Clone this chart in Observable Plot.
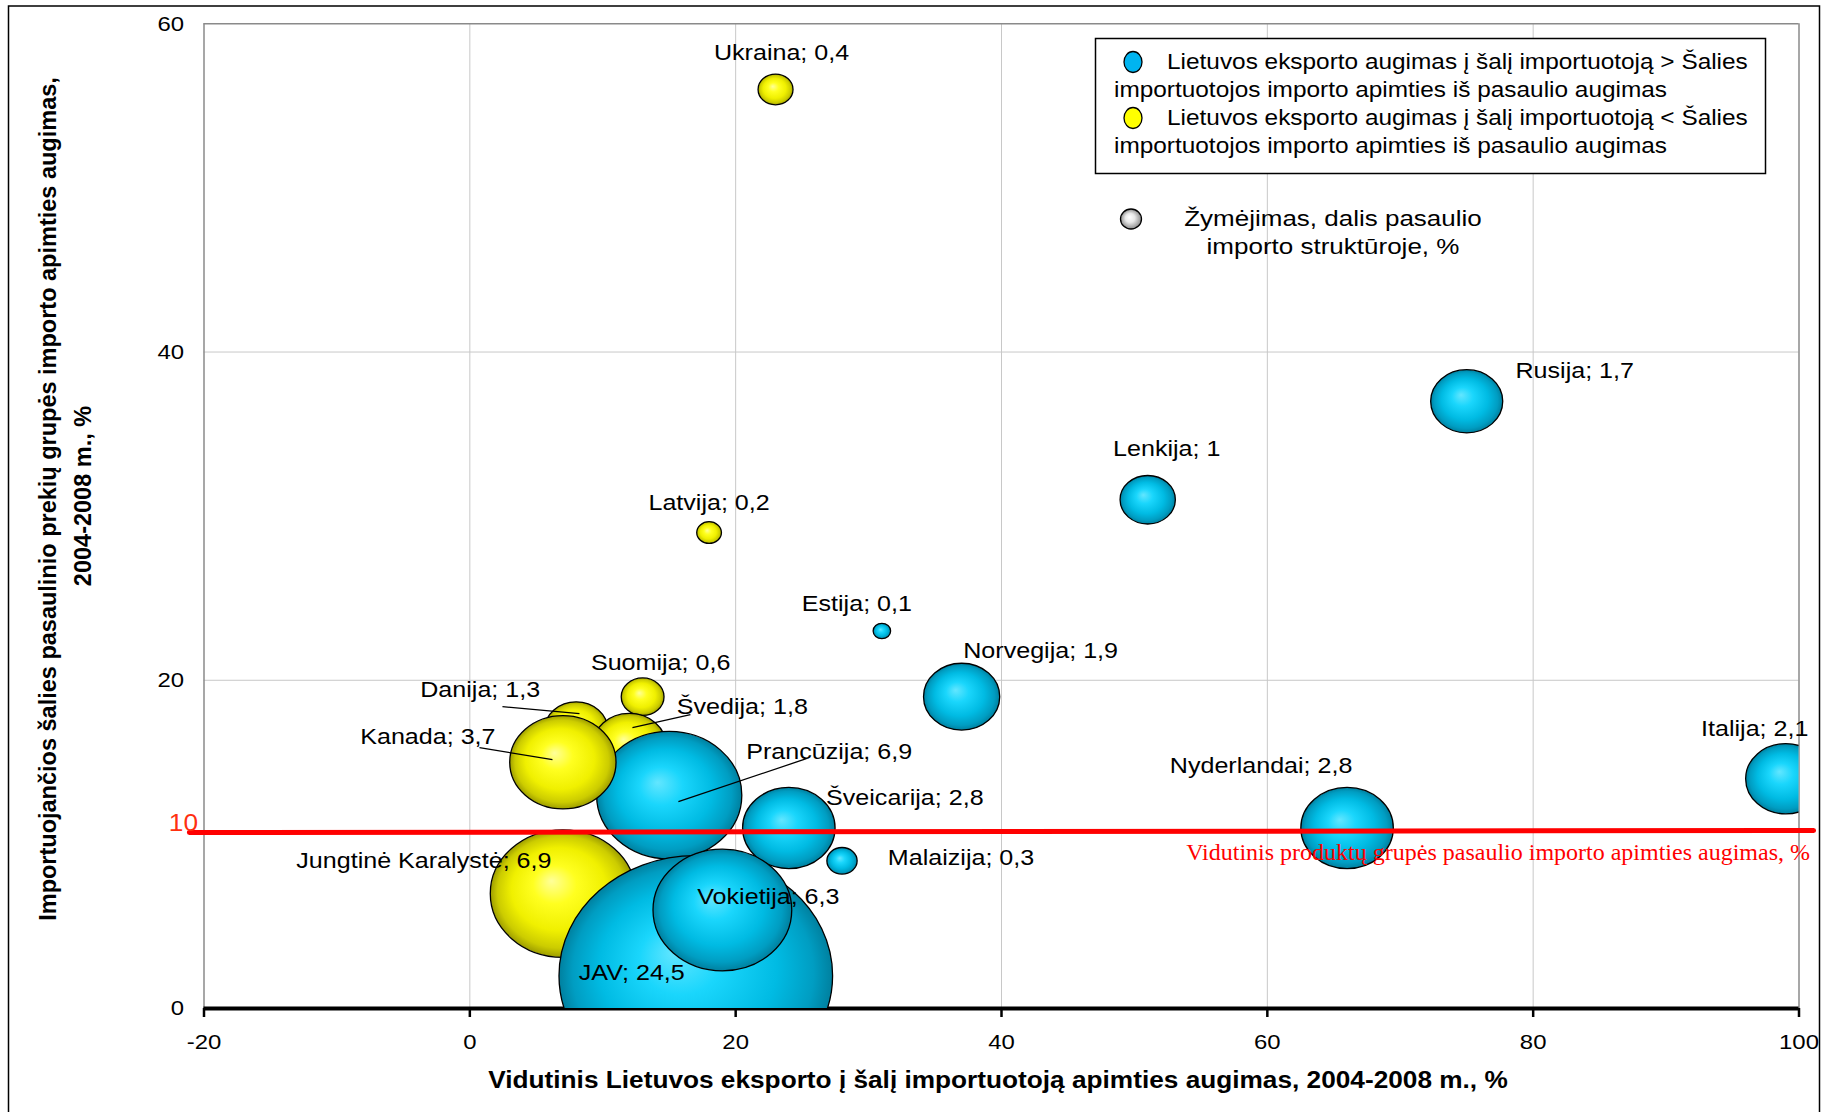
<!DOCTYPE html>
<html><head><meta charset="utf-8">
<script src="https://cdn.jsdelivr.net/npm/d3@7"></script>
<script src="https://cdn.jsdelivr.net/npm/@observablehq/plot@0.6"></script>
<style>
html,body{margin:0;padding:0;background:#fff;}
</style>
</head><body>
<div id="chart"></div>
<script>
// ---- data (drawing order = layering order) ----
const countries = ["Ukraina","Latvija","Estija","Lenkija","Rusija","Norvegija","Italija","Nyderlandai","Suomija","Danija","Švedija","Prancūzija","Kanada","Šveicarija","Malaizija","Jungtinė Karalystė","JAV","Vokietija"];
const exportGrowth = [23,18,31,51,75,37,99,66,13,8,12,15,7,24,28,7,17,19];
const importGrowth = [56,29,23,31,37,19,14,11,19,17,16,13,15,11,9,7,2,6];
const worldShare = [0.4,0.2,0.1,1,1.7,1.9,2.1,2.8,0.6,1.3,1.8,6.9,3.7,2.8,0.3,6.9,24.5,6.3];
const group = ["<","<",">",">",">",">",">",">","<","<","<",">","<",">",">","<",">",">"];
const xTicks = [-20,0,20,40,60,80,100];
const yTicks = [0,20,40,60];
const avgLineX = [-21.1, 101.1];
const avgLineY = [10.72, 10.85];
const avgTickLabel = "10";
const avgCaption = "Vidutinis produktų grupės pasaulio importo apimties augimas, %";
const xTitle = "Vidutinis Lietuvos eksporto į šalį importuotoją apimties augimas, 2004-2008 m., %";
const yTitle = ["Importuojančios šalies pasaulinio prekių grupės importo apimties augimas,", "2004-2008 m., %"];
const legendItems = [
  ["Lietuvos eksporto augimas į šalį importuotoją > Šalies", "importuotojos importo apimties iš pasaulio augimas"],
  ["Lietuvos eksporto augimas į šalį importuotoją < Šalies", "importuotojos importo apimties iš pasaulio augimas"]
];
const sizeNote = ["Žymėjimas, dalis pasaulio", "importo struktūroje, %"];

// ---- layout (pixel offsets of labels / leader lines from bubble centres) ----
const labelOffsets = [[6,-36],[0,-30],[-25,-27],[19,-51],[108,-30],[79,-46],[-31,-50],[-86,-62],[18,-34],[-96,-40],[113,-39],[160,-43],[-135,-25],[116,-30],[119,-3],[-139,-33],[-64,-3],[46,-13]];
const leaderOffsets = {
  "Danija": [[-73.7,-22.9],[3.3,-15.9]],
  "Švedija": [[3.1,-18.3],[61.1,-31.3]],
  "Kanada": [[-83.4,-14.7],[-10.4,-2.7]],
  "Prancūzija": [[9.2,6.5],[137.2,-36.5]]
};

const W = 1823, H = 1112, ML = 203.5, MR = 24.5, MT = 23.3, MB = 104;
const KX = (W - ML - MR) / (xTicks[xTicks.length-1] - xTicks[0]);
const KY = (H - MT - MB) / (yTicks[yTicks.length-1] - yTicks[0]);
const STRETCH = 1.14;
const SANS = "'Liberation Sans', Arial, sans-serif";
const SERIF = "'Liberation Serif', 'Times New Roman', serif";

const rows = countries.map((name, i) => ({name, x: exportGrowth[i], y: importGrowth[i], share: worldShare[i], group: group[i]}));
const fmt = v => String(v).replace(".", ",");

const ellipse = {
  draw(ctx, size) {
    const r = Math.sqrt(size / Math.PI), rx = r * STRETCH, ry = r, k = 0.5522847;
    ctx.moveTo(rx, 0);
    ctx.bezierCurveTo(rx, ry*k, rx*k, ry, 0, ry);
    ctx.bezierCurveTo(-rx*k, ry, -rx, ry*k, -rx, 0);
    ctx.bezierCurveTo(-rx, -ry*k, -rx*k, -ry, 0, -ry);
    ctx.bezierCurveTo(rx*k, -ry, rx, -ry*k, rx, 0);
    ctx.closePath();
  }
};

const bubbleMarks = rows.map(d => Plot.dot([d], {
  x: "x", y: "y", r: "share", symbol: ellipse,
  fill: d.group === ">" ? "url(#gBlue)" : "url(#gYellow)",
  stroke: "black", strokeWidth: 1.3, clip: "frame"
}));
const labelMarks = rows.map((d, i) => Plot.text([d], {
  x: "x", y: "y", text: r => `${r.name}; ${fmt(r.share)}`,
  dx: labelOffsets[i][0], dy: labelOffsets[i][1],
  fontSize: 22, fill: "black", textAnchor: "middle", lineAnchor: "middle"
}));
const leaderRows = rows.filter(d => leaderOffsets[d.name]);
const leaderMark = Plot.link(leaderRows, {
  x1: d => d.x + leaderOffsets[d.name][0][0] / KX,
  y1: d => d.y - leaderOffsets[d.name][0][1] / KY,
  x2: d => d.x + leaderOffsets[d.name][1][0] / KX,
  y2: d => d.y - leaderOffsets[d.name][1][1] / KY,
  stroke: "black", strokeWidth: 1.3
});
const avgRows = avgLineX.map((x, i) => ({x, y: avgLineY[i]}));

const chart = Plot.plot({
  width: W, height: H,
  marginLeft: ML, marginRight: MR, marginTop: MT, marginBottom: MB,
  style: {background: "white", fontFamily: SANS, overflow: "visible"},
  x: {domain: [xTicks[0], xTicks[xTicks.length-1]]},
  y: {domain: [yTicks[0], yTicks[yTicks.length-1]]},
  r: {type: "sqrt", domain: [0, d3.max(worldShare)], range: [0, 120]},
  marks: [
    Plot.gridX(xTicks.slice(1, -1), {stroke: "#c8c8c8", strokeOpacity: 1, strokeWidth: 1}),
    Plot.gridY(yTicks.slice(1, -1), {stroke: "#c8c8c8", strokeOpacity: 1, strokeWidth: 1}),
    Plot.ruleY([yTicks[yTicks.length-1]], {stroke: "#8a8a8a", strokeWidth: 1.5}),
    Plot.ruleX([xTicks[0], xTicks[xTicks.length-1]], {stroke: "#8a8a8a", strokeWidth: 1.5}),
    Plot.axisX({ticks: xTicks, tickSize: 9, tickPadding: 17, fontSize: 21, tickFormat: d => String(d), stroke: "black", strokeWidth: 2.5, label: null}),
    Plot.axisY({ticks: yTicks, tickSize: 0, tickPadding: 20, fontSize: 21, tickFormat: d => String(d), label: null}),
    Plot.ruleY([0], {stroke: "black", strokeWidth: 4}),
    ...bubbleMarks,
    leaderMark,
    ...labelMarks,
    Plot.line(avgRows, {x: "x", y: "y", stroke: "#ff0000", strokeWidth: 5}),
    Plot.text([avgRows[0]], {x: () => xTicks[0], y: "y", text: () => avgTickLabel, textAnchor: "end", dx: -6, dy: -9, fill: "#ff3010", fontSize: 23, lineAnchor: "middle"}),
    Plot.text([avgRows[1]], {x: () => xTicks[xTicks.length-1], y: "y", text: () => avgCaption, textAnchor: "end", dx: 11, dy: 22, fill: "#ff0000", fontSize: 24, fontFamily: SERIF, lineAnchor: "middle", className: "nostretch"}),
    Plot.text([xTitle], {frameAnchor: "bottom", text: d => d, dy: 72, dx: -3.5, fontWeight: "bold", fontSize: 23, lineAnchor: "middle", fill: "black"})
  ]
});

document.getElementById("chart").appendChild(chart);
const svg = d3.select(chart);

// gradients
const defs = svg.insert("defs", ":first-child");
function grad(id, stops, fx, fy) {
  const g = defs.append("radialGradient").attr("id", id)
    .attr("cx", "50%").attr("cy", "50%").attr("r", "50%").attr("fx", fx).attr("fy", fy);
  stops.forEach(([o, c]) => g.append("stop").attr("offset", o).attr("stop-color", c));
}
grad("gBlue", [[0, "#63e6ff"], [0.3, "#1ad6fc"], [0.65, "#00bbe3"], [0.88, "#009dc2"], [1, "#00809f"]], "42%", "40%");
grad("gYellow", [[0, "#ffff9a"], [0.3, "#ffff20"], [0.65, "#f0f000"], [0.88, "#cccc00"], [1, "#9e9e00"]], "42%", "40%");
grad("gGrey", [[0, "#ffffff"], [0.45, "#e8e8e8"], [1, "#8c8c8c"]], "42%", "40%");

// outer border
svg.append("rect").attr("x", 8.5).attr("y", 6).attr("width", 1811).attr("height", 1200)
  .attr("fill", "none").attr("stroke", "black").attr("stroke-width", 1.5);

// y-axis title (rotated)
[[48, 499], [83, 496]].forEach(([x, y], i) => {
  svg.append("text").attr("class", "nostretch")
    .attr("transform", `translate(${x},${y}) rotate(-90)`)
    .attr("text-anchor", "middle").attr("dy", "0.35em")
    .attr("font-weight", "bold").attr("font-size", 23.5).attr("fill", "black")
    .text(yTitle[i]);
});

// legend
const lg = svg.append("g").attr("text-anchor", "start");
lg.append("rect").attr("x", 1095.5).attr("y", 38.5).attr("width", 670).attr("height", 135)
  .attr("fill", "white").attr("stroke", "black").attr("stroke-width", 1.5);
const iconFill = ["#00b4f0", "#ffff00"];
legendItems.forEach((lines, i) => {
  const y0 = 62 + i * 56;
  lg.append("ellipse").attr("cx", 1133).attr("cy", y0).attr("rx", 9).attr("ry", 10.5)
    .attr("fill", iconFill[i]).attr("stroke", "black").attr("stroke-width", 1.3);
  lg.append("text").attr("x", 1167).attr("y", y0).attr("dy", "0.35em").attr("text-anchor", "start").attr("font-size", 21.4).attr("fill", "black").text(lines[0]);
  lg.append("text").attr("x", 1114).attr("y", y0 + 28).attr("dy", "0.35em").attr("text-anchor", "start").attr("font-size", 21.4).attr("fill", "black").text(lines[1]);
});
lg.append("ellipse").attr("cx", 1131).attr("cy", 219).attr("rx", 10.5).attr("ry", 10)
  .attr("fill", "url(#gGrey)").attr("stroke", "black").attr("stroke-width", 1.3);
sizeNote.forEach((t, i) => {
  lg.append("text").attr("x", 1333).attr("y", 218 + i * 28.5).attr("dy", "0.35em")
    .attr("text-anchor", "middle").attr("font-size", 22.8).attr("fill", "black").text(t);
});

// horizontal stretch of the original picture, applied to horizontal text
chart.querySelectorAll("text").forEach(t => {
  if (t.classList.contains("nostretch") || t.closest(".nostretch")) return;
  const len = t.getComputedTextLength();
  if (len > 0) {
    t.setAttribute("textLength", (len * STRETCH).toFixed(1));
    t.setAttribute("lengthAdjust", "spacingAndGlyphs");
  }
});
</script>
</body></html>
